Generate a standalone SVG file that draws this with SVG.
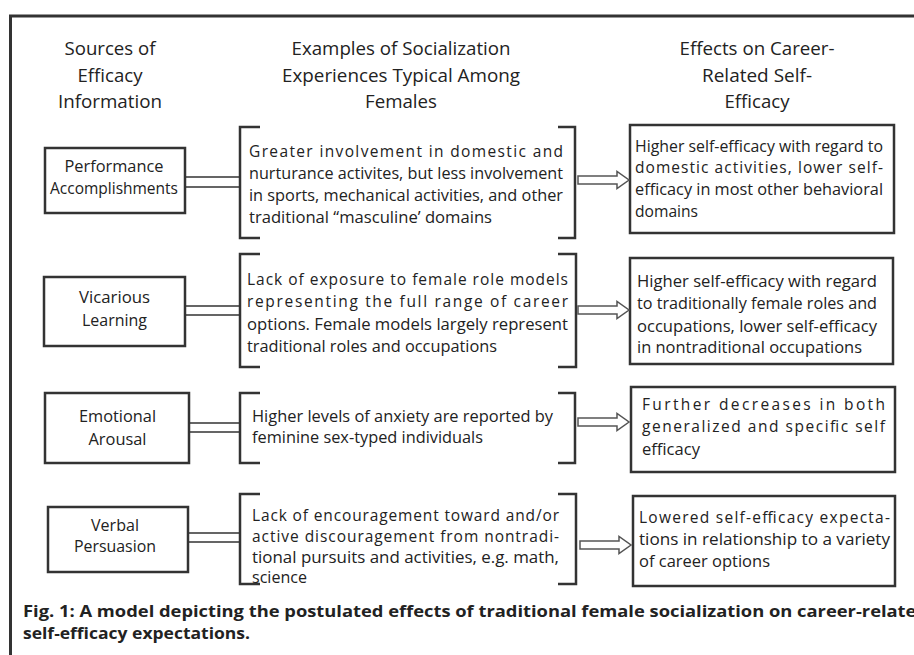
<svg xmlns="http://www.w3.org/2000/svg" width="914" height="655" viewBox="0 0 914 655">
<style>
text{font-family:"Open Sans","Noto Sans","Liberation Sans",sans-serif;fill:#222}
.h{font-size:17.5px;text-anchor:middle}
.n{font-size:16.5px;text-anchor:middle}
.b{font-size:15.5px}
.cap{font-size:16px;font-weight:bold}
.box{fill:none;stroke:#333;stroke-width:2.5}
.br{fill:none;stroke:#333;stroke-width:2.5}
.dl{stroke:#333;stroke-width:1.5}
.ar{fill:#fff;stroke:#555;stroke-width:1.5;stroke-linejoin:miter}
</style>
<defs>
<path id="arrow" d="M0,-4 H39 V-8.5 L51,0 L39,8.5 V4 H0 Z"/>
</defs>
<rect width="914" height="655" fill="#fff"/>
<path d="M10.5,655 V16 H914" fill="none" stroke="#333" stroke-width="3"/>
<g id="headers">
<text class="h" x="110" y="55" textLength="91" lengthAdjust="spacingAndGlyphs">Sources of</text>
<text class="h" x="110" y="82" textLength="65" lengthAdjust="spacingAndGlyphs">Efficacy</text>
<text class="h" x="110" y="108" textLength="104" lengthAdjust="spacingAndGlyphs">Information</text>
<text class="h" x="401" y="55" textLength="219" lengthAdjust="spacingAndGlyphs">Examples of Socialization</text>
<text class="h" x="401" y="82" textLength="238" lengthAdjust="spacingAndGlyphs">Experiences Typical Among</text>
<text class="h" x="401" y="108" textLength="72" lengthAdjust="spacingAndGlyphs">Females</text>
<text class="h" x="757" y="55" textLength="155" lengthAdjust="spacingAndGlyphs">Effects on Career-</text>
<text class="h" x="757" y="82" textLength="110" lengthAdjust="spacingAndGlyphs">Related Self-</text>
<text class="h" x="757" y="108" textLength="65" lengthAdjust="spacingAndGlyphs">Efficacy</text>
</g>
<g id="source-performance">
<rect class="box" x="45" y="148" width="140" height="65"/>
<text class="n" x="114" y="172" textLength="99" lengthAdjust="spacingAndGlyphs">Performance</text>
<text class="n" x="114" y="194" textLength="128" lengthAdjust="spacingAndGlyphs">Accomplishments</text>
</g>
<g id="source-vicarious">
<rect class="box" x="44" y="277" width="141" height="69"/>
<text class="n" x="114.5" y="303" textLength="71" lengthAdjust="spacingAndGlyphs">Vicarious</text>
<text class="n" x="114.5" y="326" textLength="65" lengthAdjust="spacingAndGlyphs">Learning</text>
</g>
<g id="source-emotional">
<rect class="box" x="45" y="393" width="144" height="70"/>
<text class="n" x="117.5" y="422" textLength="77" lengthAdjust="spacingAndGlyphs">Emotional</text>
<text class="n" x="117.5" y="445" textLength="58" lengthAdjust="spacingAndGlyphs">Arousal</text>
</g>
<g id="source-verbal">
<rect class="box" x="48" y="507" width="140" height="65"/>
<text class="n" x="115" y="531" textLength="48" lengthAdjust="spacingAndGlyphs">Verbal</text>
<text class="n" x="115" y="552" textLength="82" lengthAdjust="spacingAndGlyphs">Persuasion</text>
</g>
<g id="exp-performance">
<path class="br" d="M260,127 H240 V238 H260 M558,127 H575 V238 H558"/>
<text class="b" x="249" y="157" textLength="314" lengthAdjust="spacing">Greater involvement in domestic and</text>
<text class="b" x="249" y="179" textLength="314" lengthAdjust="spacingAndGlyphs">nurturance activites, but less involvement</text>
<text class="b" x="249" y="201" textLength="314" lengthAdjust="spacingAndGlyphs">in sports, mechanical activities, and other</text>
<text class="b" x="249" y="223" textLength="243" lengthAdjust="spacingAndGlyphs">traditional “masculine’ domains</text>
</g>
<g id="exp-vicarious">
<path class="br" d="M260,254 H240 V367 H260 M558,254 H576 V367 H558"/>
<text class="b" x="247" y="285" textLength="321" lengthAdjust="spacing">Lack of exposure to female role models</text>
<text class="b" x="247" y="307" textLength="321" lengthAdjust="spacing">representing the full range of career</text>
<text class="b" x="247" y="330" textLength="321" lengthAdjust="spacingAndGlyphs">options. Female models largely represent</text>
<text class="b" x="247" y="352" textLength="250" lengthAdjust="spacingAndGlyphs">traditional roles and occupations</text>
</g>
<g id="exp-emotional">
<path class="br" d="M260,393 H240 V463 H260 M558,393 H575 V463 H558"/>
<text class="b" x="252" y="422" textLength="301" lengthAdjust="spacingAndGlyphs">Higher levels of anxiety are reported by</text>
<text class="b" x="252" y="443" textLength="231" lengthAdjust="spacingAndGlyphs">feminine sex-typed individuals</text>
</g>
<g id="exp-verbal">
<path class="br" d="M260,494 H240 V584 H260 M558,494 H576 V584 H558"/>
<text class="b" x="252" y="521" textLength="307" lengthAdjust="spacing">Lack of encouragement toward and/or</text>
<text class="b" x="252" y="542" textLength="307" lengthAdjust="spacing">active discouragement from nontradi-</text>
<text class="b" x="252" y="563" textLength="307" lengthAdjust="spacingAndGlyphs">tional pursuits and activities, e.g. math,</text>
<text class="b" x="252" y="583" textLength="55" lengthAdjust="spacingAndGlyphs">science</text>
</g>
<g id="effect-performance">
<rect class="box" x="630" y="125" width="264" height="108"/>
<text class="b" x="635" y="152" textLength="248" lengthAdjust="spacingAndGlyphs">Higher self-efficacy with regard to</text>
<text class="b" x="635" y="173" textLength="248" lengthAdjust="spacing">domestic activities, lower self-</text>
<text class="b" x="635" y="195" textLength="248" lengthAdjust="spacingAndGlyphs">efficacy in most other behavioral</text>
<text class="b" x="635" y="217" textLength="63" lengthAdjust="spacingAndGlyphs">domains</text>
</g>
<g id="effect-vicarious">
<rect class="box" x="630" y="258" width="263" height="106"/>
<text class="b" x="637" y="287" textLength="240" lengthAdjust="spacingAndGlyphs">Higher self-efficacy with regard</text>
<text class="b" x="637" y="309" textLength="240" lengthAdjust="spacingAndGlyphs">to traditionally female roles and</text>
<text class="b" x="637" y="332" textLength="240" lengthAdjust="spacingAndGlyphs">occupations, lower self-efficacy</text>
<text class="b" x="637" y="353" textLength="225" lengthAdjust="spacingAndGlyphs">in nontraditional occupations</text>
</g>
<g id="effect-emotional">
<rect class="box" x="631" y="387" width="264" height="85"/>
<text class="b" x="642" y="410" textLength="243" lengthAdjust="spacing">Further decreases in both</text>
<text class="b" x="642" y="432" textLength="243" lengthAdjust="spacing">generalized and specific self</text>
<text class="b" x="642" y="455" textLength="58" lengthAdjust="spacingAndGlyphs">efficacy</text>
</g>
<g id="effect-verbal">
<rect class="box" x="633" y="496" width="262" height="90"/>
<text class="b" x="639" y="523" textLength="251" lengthAdjust="spacing">Lowered self-efficacy expecta-</text>
<text class="b" x="639" y="545" textLength="251" lengthAdjust="spacingAndGlyphs">tions in relationship to a variety</text>
<text class="b" x="639" y="567" textLength="131" lengthAdjust="spacingAndGlyphs">of career options</text>
</g>
<g id="connectors">
<path class="dl" d="M185,177 H240 M185,187 H240"/>
<path class="dl" d="M185,306 H240 M185,315 H240"/>
<path class="dl" d="M189,423 H240 M189,432 H240"/>
<path class="dl" d="M188,533 H240 M188,542 H240"/>
<use href="#arrow" class="ar" x="578" y="180"/>
<use href="#arrow" class="ar" x="578" y="310"/>
<use href="#arrow" class="ar" x="578" y="422"/>
<use href="#arrow" class="ar" x="580" y="545"/>
</g>
<g id="caption">
<text class="cap" x="23" y="617" textLength="905" lengthAdjust="spacingAndGlyphs">Fig. 1: A model depicting the postulated effects of traditional female socialization on career-related</text>
<text class="cap" x="23" y="639" textLength="227" lengthAdjust="spacingAndGlyphs">self-efficacy expectations.</text>
</g>
</svg>
